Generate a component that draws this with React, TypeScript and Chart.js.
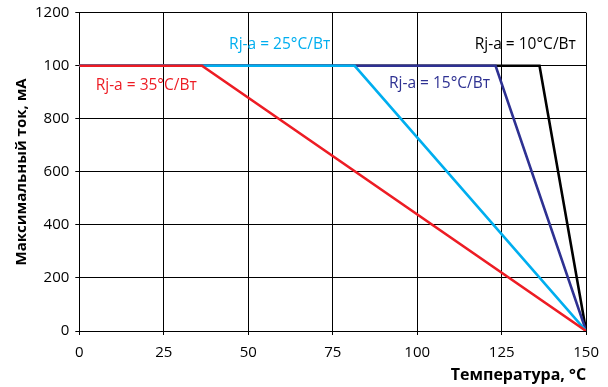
import React, { useEffect, useRef } from "react";
import { Chart, registerables } from "chart.js";

Chart.register(...registerables);

const FONT = "'Open Sans', 'Noto Sans', sans-serif";

// Temperature (°C) break points for each thermal-resistance curve
const xTicks = [0, 25, 50, 75, 100, 125, 150];
const yTickValues = [0, 200, 400, 600, 800, 1000, 1200];
const yTickLabels = ["0", "200", "400", "600", "800", "100", "1200"];

const tempR35 = [0, 36.3, 150];
const currR35 = [1000, 1000, 0];
const tempR25 = [0, 81.5, 150];
const currR25 = [1000, 1000, 0];
const tempR15 = [0, 123.2, 150];
const currR15 = [1000, 1000, 0];
const tempR10 = [0, 136.2, 150];
const currR10 = [1000, 1000, 0];

const seriesNames = ["Rj-a = 35°C/Вт", "Rj-a = 25°C/Вт", "Rj-a = 15°C/Вт", "Rj-a = 10°C/Вт"];
const seriesColors = ["#ED1C24", "#00AEEF", "#2E3192", "#000000"];

// label anchor positions (data coords)
const labelX = [19.8, 59.3, 106.6, 132];
const labelY = [925, 1079, 932, 1079];

const toPts = (xs: number[], ys: number[]) => xs.map((x, i) => ({ x, y: ys[i] }));

const labelPlugin = {
  id: "curveLabels",
  afterDatasetsDraw(chart: any) {
    const { ctx, scales } = chart;
    ctx.save();
    ctx.font = `15.5px ${FONT}`;
    ctx.textAlign = "center";
    ctx.textBaseline = "middle";
    seriesNames.forEach((t, i) => {
      ctx.fillStyle = seriesColors[i];
      ctx.fillText(t, scales.x.getPixelForValue(labelX[i]), scales.y.getPixelForValue(labelY[i]));
    });
    ctx.restore();
  },
};

export default function App() {
  const ref = useRef<HTMLCanvasElement>(null);
  useEffect(() => {
    document.body.style.margin = "0";
    const series = [
      toPts(tempR35, currR35),
      toPts(tempR25, currR25),
      toPts(tempR15, currR15),
      toPts(tempR10, currR10),
    ];
    const chart = new Chart(ref.current!, {
      type: "scatter",
      data: {
        datasets: series.map((d, i) => ({
          label: seriesNames[i],
          data: d,
          showLine: true,
          borderColor: seriesColors[i],
          backgroundColor: seriesColors[i],
          borderWidth: 2.6,
          pointRadius: 0,
          tension: 0,
        })),
      },
      options: {
        animation: false,
        responsive: false,
        layout: { padding: { top: 0, right: 21, left: 14, bottom: 4 } },
        plugins: { legend: { display: false }, tooltip: { enabled: false } },
        scales: {
          x: {
            type: "linear",
            min: 0,
            max: 150,
            afterBuildTicks: (ax: any) => {
              ax.ticks = xTicks.map((v) => ({ value: v }));
            },
            grid: { color: "#000", lineWidth: 1, tickLength: 4 },
            border: { color: "#000", width: 1 },
            ticks: { color: "#000", font: { family: FONT, size: 15 }, padding: 9, maxRotation: 0 },
            title: {
              display: true,
              text: "Температура, °С",
              align: "end",
              color: "#000",
              font: { family: FONT, size: 16, weight: "bold", lineHeight: 1 },
              padding: { top: -4, bottom: 0 },
            },
          },
          y: {
            type: "linear",
            min: 0,
            max: 1200,
            afterBuildTicks: (ax: any) => {
              ax.ticks = yTickValues.map((v) => ({ value: v }));
            },
            grid: { color: "#000", lineWidth: 1, tickLength: 4 },
            border: { color: "#000", width: 1 },
            ticks: {
              color: "#000",
              font: { family: FONT, size: 15, lineHeight: 0.9 },
              padding: 6,
              callback: (v: any) => {
                const i = yTickValues.indexOf(Number(v));
                return i >= 0 ? yTickLabels[i] : "";
              },
            },
            title: {
              display: true,
              text: "Максимальный ток, мА",
              color: "#000",
              font: { family: FONT, size: 15, weight: "bold", lineHeight: 1 },
              padding: { top: 0, bottom: 0 },
            },
          },
        },
      },
      plugins: [labelPlugin],
    } as any);
    return () => chart.destroy();
  }, []);
  return (
    <div style={{ width: 608, height: 387 }}>
      <canvas ref={ref} width={608} height={387} style={{ width: 608, height: 387 }} />
    </div>
  );
}
